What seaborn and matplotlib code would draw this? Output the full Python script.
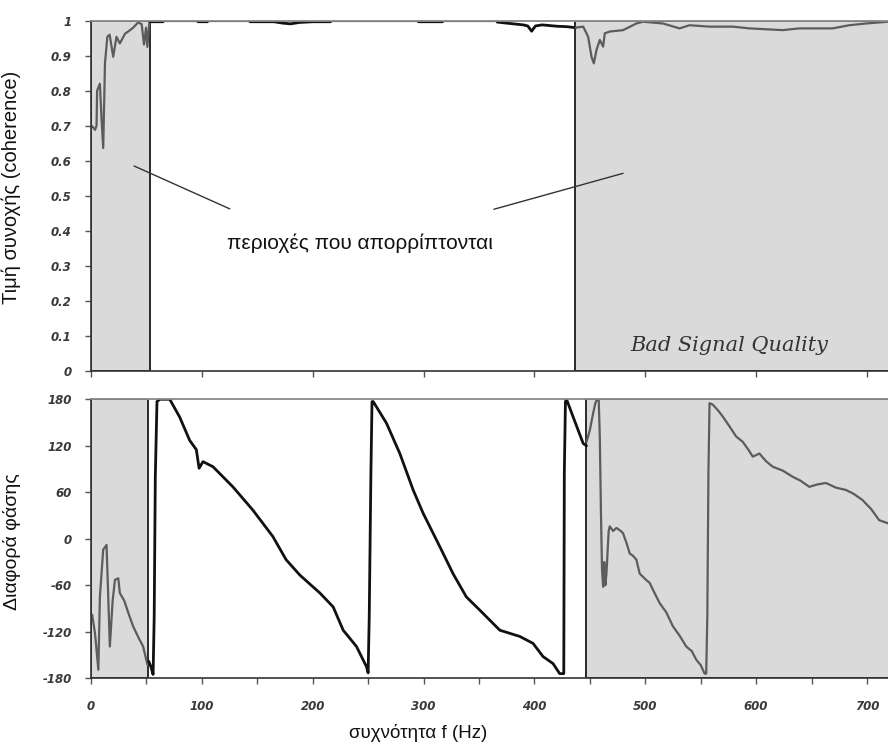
import numpy as np
import pandas as pd
import seaborn as sns
import matplotlib
matplotlib.use("Agg")
import matplotlib.pyplot as plt
from matplotlib.ticker import MultipleLocator, FuncFormatter

# ---------------- data ----------------
# coherence, rejected low band (gray)
coh_f_left = [0, 1.5, 3.6, 5, 5.5, 8, 9.5, 11, 12.6, 14.7, 16.8, 20, 23, 26, 30.7, 34, 38,
              42.5, 45.7, 47.8, 49.6, 50.8, 52.3, 53]
coh_left = [0.70, 0.697, 0.688, 0.70, 0.80, 0.82, 0.72, 0.636, 0.879, 0.954, 0.96, 0.897,
            0.954, 0.935, 0.963, 0.97, 0.98, 0.995, 0.99, 0.932, 0.98, 0.925, 0.985, 1.0]
# coherence, accepted band (black)
coh_f_mid = [53, 65, 65.5, 96, 96.5, 105, 105.5, 143, 143.5, 165, 173, 180, 188, 200, 216,
             216.5, 295, 295.5, 317, 317.5, 366, 366.5, 375, 384, 390, 394, 397.5, 401, 407,
             414, 421, 429, 437]
coh_mid = [0.997, 0.997, 1.0, 1.0, 0.997, 0.997, 1.0, 1.0, 0.997, 0.997, 0.993, 0.991, 0.995,
           0.997, 0.997, 1.0, 1.0, 0.997, 0.997, 1.0, 1.0, 0.996, 0.993, 0.99, 0.988, 0.985,
           0.97, 0.985, 0.988, 0.986, 0.984, 0.983, 0.98]
# coherence, rejected high band (gray)
coh_f_right = [437, 444, 448.5, 451.5, 453.6, 456, 459, 462, 463.5, 468, 480, 492, 498, 516,
               531, 540, 558, 579, 594, 624, 639, 669, 684, 699, 719]
coh_right = [0.98, 0.983, 0.954, 0.897, 0.878, 0.916, 0.945, 0.926, 0.964, 0.969, 0.973,
             0.992, 0.997, 0.992, 0.978, 0.987, 0.983, 0.983, 0.978, 0.973, 0.978, 0.978,
             0.987, 0.992, 0.997]

# phase difference (degrees)
ph_f_left = [0, 1, 3.6, 6.6, 8, 11, 14, 17, 19.5, 21.6, 24.6, 26, 30, 34, 38, 43, 47, 51]
ph_left = [-105, -98, -122, -169, -75, -14, -8, -139, -80, -53, -51, -70, -80, -97, -113,
           -128, -139, -163]
ph_f_mid = [52, 54, 56, 57, 58, 59.5, 62, 71, 80, 89, 95, 97.5, 101, 110, 128, 146, 164, 176,
            188.5, 206.5, 218.5, 227.5, 239.5, 248.5, 250, 251, 252.5, 253.5, 254.6, 266.6,
            278.6, 290.6, 299.6, 314.6, 326.6, 338.6, 350.7, 368.8, 386.8, 398.8, 407.8,
            416.8, 422.8, 426.5, 427, 428, 429, 435, 444, 447]
ph_mid = [-158, -165, -175, -100, 80, 177, 180, 180, 157, 127, 115, 91, 99.5, 93, 67, 37, 3,
          -27, -47, -70, -88, -118, -139, -165, -173, -100, 85, 177, 177, 149, 110, 63, 33,
          -10, -45, -75, -92, -118, -126, -135, -152, -161, -174, -174, 85, 177, 180, 157,
          123, 120]
ph_f_right = [447, 450, 453, 455, 456.5, 458, 459, 460, 461, 462, 463, 464, 465, 467, 468,
              471, 474, 478, 480, 483, 486, 489, 492, 495, 500, 504, 507, 513, 519, 525, 531,
              537, 542, 546, 550, 553.6, 555, 556, 557, 558, 561, 566, 570, 576, 582, 588,
              593, 597, 603, 609, 615, 624, 633, 640, 648, 655, 663, 672, 681, 688, 696,
              704, 711, 719]
ph_right = [125, 140, 162, 175, 180, 180, 132, 37, -40, -62, -30, -60, -45, 10, 16, 10, 14,
            10, 7, -5, -19, -22, -27, -45, -52, -57, -66, -83, -95, -113, -125, -139, -145,
            -156, -163, -174, -174, -100, 85, 175, 173, 165, 157.6, 145, 132, 125, 115, 106,
            110, 100, 93, 88, 80, 75, 67, 70, 72, 66, 63, 58, 50, 38, 24, 20]

coh_yticks = [0, 0.1, 0.2, 0.3, 0.4, 0.5, 0.6, 0.7, 0.8, 0.9, 1.0]
ph_yticks = [-180, -120, -60, 0, 60, 120, 180]

rej_top = [(0, 53), (437, 760)]
rej_bot = [(0, 51.6), (447, 760)]

# ---------------- style ----------------
sns.set_style("ticks")
plt.rcParams['font.family'] = ['Liberation Sans', 'DejaVu Sans']
plt.rcParams['axes.unicode_minus'] = False

fig = plt.figure(figsize=(8.88, 7.47), dpi=100)
ax1 = fig.add_axes([0.1025, 0.5038, 0.8975, 0.4685])
ax2 = fig.add_axes([0.1025, 0.0920, 0.8975, 0.3735])

FILL = '#dadada'
EDGE = '#2a2a2a'
GRAY = '#5c5c5c'
BLACK = '#111111'

for ax, spans in ((ax1, rej_top), (ax2, rej_bot)):
    for a, b in spans:
        ax.axvspan(a, b, facecolor=FILL, edgecolor=EDGE, lw=1.4, zorder=0)

def seg(ax, f, v, color, lw):
    df = pd.DataFrame({'f': f, 'v': v})
    sns.lineplot(data=df, x='f', y='v', ax=ax, color=color, lw=lw,
                 estimator=None, sort=False, legend=False)

seg(ax1, coh_f_left, coh_left, GRAY, 1.6)
seg(ax1, coh_f_mid, coh_mid, BLACK, 2.0)
seg(ax1, coh_f_right, coh_right, GRAY, 1.6)
seg(ax2, ph_f_left, ph_left, GRAY, 1.6)
seg(ax2, ph_f_mid, ph_mid, BLACK, 2.0)
seg(ax2, ph_f_right, ph_right, GRAY, 1.6)

ax1.set_xlim(0, 719)
ax1.set_ylim(0, 1)
ax2.set_xlim(0, 719)
ax2.set_ylim(-180, 180)

for ax in (ax1, ax2):
    ax.spines['right'].set_visible(False)
    ax.spines['top'].set_color('#8a8a8a')
    ax.spines['top'].set_linewidth(1.3)
    for s in ('left', 'bottom'):
        ax.spines[s].set_color('#333333')
        ax.spines[s].set_linewidth(1.2)
    ax.tick_params(axis='both', which='both', direction='out', length=4, width=1,
                   color='#555555', labelcolor='#3a3a3a')
    ax.tick_params(axis='y', pad=10)
    ax.set_xlabel('')
    ax.set_ylabel('')

ax1.xaxis.set_major_locator(MultipleLocator(100))
ax1.set_xticklabels([])
ax1.set_yticks(coh_yticks)
ax1.yaxis.set_major_formatter(FuncFormatter(lambda v, p: f'{v:g}'))

ax2.xaxis.set_major_locator(MultipleLocator(100))
ax2.xaxis.set_minor_locator(MultipleLocator(50))
ax2.set_yticks(ph_yticks)
ax2.yaxis.set_major_formatter(FuncFormatter(lambda v, p: f'{v:g}'))
ax2.tick_params(axis='x', pad=12)

for ax in (ax1, ax2):
    for lab in ax.get_xticklabels() + ax.get_yticklabels():
        lab.set_fontfamily('DejaVu Sans')
        lab.set_fontstyle('italic')
        lab.set_fontweight('bold')
        lab.set_fontsize(8.5)

ax1.set_ylabel('Τιμή συνοχής (coherence)', fontsize=14.5, color='#111111')
ax1.yaxis.set_label_coords(-0.088, 0.523)
ax2.set_ylabel('Διαφορά φάσης', fontsize=14, color='#111111')
ax2.yaxis.set_label_coords(-0.088, 0.49)
ax2.set_xlabel('συχνότητα f (Hz)', fontsize=13.5, color='#111111')
ax2.xaxis.set_label_coords(0.41, -0.165)

# annotations
ax1.text(243, 0.365, 'περιοχές που απορρίπτονται', ha='center', va='center',
         fontsize=15, color='#111111')
ax1.annotate('', xy=(36.6, 0.588), xytext=(127.5, 0.459),
             arrowprops=dict(arrowstyle='-', color='#333333', lw=1.0))
ax1.annotate('', xy=(482.4, 0.566), xytext=(361, 0.459),
             arrowprops=dict(arrowstyle='-', color='#333333', lw=1.0))
ax1.text(576, 0.073, 'Bad Signal Quality', ha='center', va='center',
         fontsize=15, family='DejaVu Serif', style='italic', color='#333333')

fig.savefig('out.png', dpi=100)
